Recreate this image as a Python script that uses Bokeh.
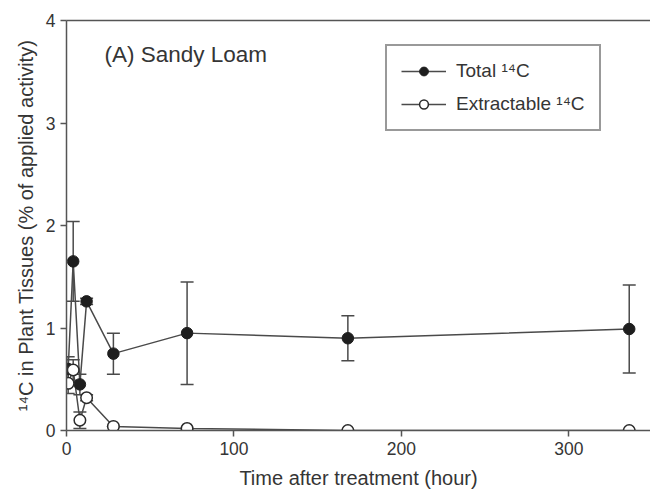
from bokeh.plotting import figure
from bokeh.models import (ColumnDataSource, Whisker, TeeHead, Legend, LegendItem,
                          LinearAxis, FixedTicker, Label, Range1d)
from bokeh.embed import file_html
from bokeh.resources import INLINE

# ---- data ----
time_h = [1, 4, 8, 12, 28, 72, 168, 336]
total_14c = [0.60, 1.65, 0.45, 1.26, 0.75, 0.95, 0.90, 0.99]
total_err = [0.12, 0.39, 0.10, 0.03, 0.20, 0.50, 0.22, 0.43]
extract_14c = [0.46, 0.59, 0.10, 0.32, 0.04, 0.02, 0.00, 0.00]
extract_err = [0.10, 0.10, 0.08, 0.03, 0.00, 0.00, 0.00, 0.00]
x_ticks = [0, 100, 200, 300]
y_ticks = [0, 1, 2, 3, 4]

FONT = "Liberation Sans"
TXT = "#353535"
AX = "#555555"
LN = "#4a4a4a"

src_t = ColumnDataSource(dict(
    x=time_h, y=total_14c,
    lo=[v - e for v, e in zip(total_14c, total_err)],
    hi=[v + e for v, e in zip(total_14c, total_err)]))
src_e = ColumnDataSource(dict(
    x=time_h, y=extract_14c,
    lo=[v - e for v, e in zip(extract_14c, extract_err)],
    hi=[v + e for v, e in zip(extract_14c, extract_err)]))

p = figure(frame_width=584, frame_height=410, output_backend="svg",
           toolbar_location=None, x_range=Range1d(0, 348.7), y_range=Range1d(0, 4),
           min_border_left=66, min_border_right=0, min_border_top=20, min_border_bottom=60)
p.outline_line_color = None
p.background_fill_color = "white"
p.border_fill_color = "white"
p.xgrid.grid_line_color = None
p.ygrid.grid_line_color = None

for ax, ticks in ((p.xaxis[0], x_ticks), (p.yaxis[0], y_ticks)):
    ax.ticker = FixedTicker(ticks=ticks)
    ax.axis_line_color = AX
    ax.axis_line_width = 1.5
    ax.major_tick_line_color = AX
    ax.major_tick_line_width = 1.5
    ax.major_tick_in = 0
    ax.major_tick_out = 6
    ax.minor_tick_line_color = None
    ax.major_label_text_font = FONT
    ax.major_label_text_font_size = "17.5px"
    ax.major_label_text_color = TXT
    ax.axis_label_text_font = FONT
    ax.axis_label_text_font_size = "20px"
    ax.axis_label_text_font_style = "normal"
    ax.axis_label_text_color = TXT
    ax.major_label_standoff = 5

p.xaxis.axis_label = "Time after treatment (hour)"
p.xaxis.axis_label_standoff = 9
p.yaxis.axis_label = "\u00b9\u2074C in Plant Tissues (% of applied activity)"
p.yaxis.axis_label_standoff = 6

top = LinearAxis(ticker=FixedTicker(ticks=[]), axis_line_color=AX, axis_line_width=1.5,
                 major_tick_line_color=None, minor_tick_line_color=None,
                 major_label_text_font_size="0px")
p.add_layout(top, "above")

# error bars
for src in (src_t, src_e):
    w = Whisker(source=src, base="x", upper="hi", lower="lo", dimension="height",
                line_color=LN, line_width=1.5,
                upper_head=TeeHead(size=13, line_color=LN, line_width=1.5),
                lower_head=TeeHead(size=13, line_color=LN, line_width=1.5))
    p.add_layout(w)

lt = p.line("x", "y", source=src_t, line_color=LN, line_width=1.5)
le = p.line("x", "y", source=src_e, line_color=LN, line_width=1.5)
st = p.scatter("x", "y", source=src_t, size=11.5, fill_color="#1e1e1e", line_color="#1e1e1e")
se = p.scatter("x", "y", source=src_e, size=11.5, fill_color="white", line_color="#2a2a2a",
               line_width=1.5)

legend = Legend(items=[
    LegendItem(label="Total \u00b9\u2074C", renderers=[lt, st]),
    LegendItem(label="Extractable \u00b9\u2074C", renderers=[le, se]),
], location=(319, 299))
legend.label_text_font = FONT
legend.label_text_font_size = "19px"
legend.label_text_color = TXT
legend.glyph_width = 45
legend.glyph_height = 22
legend.label_height = 22
legend.label_standoff = 10
legend.spacing = 11
legend.padding = 14
legend.margin = 0
legend.border_line_color = "#333333"
legend.border_line_width = 2
legend.background_fill_alpha = 1
p.add_layout(legend, "center")

p.add_layout(Label(x=22.7, y=3.67, text="(A) Sandy Loam", text_font=FONT,
                   text_font_size="22.5px", text_color=TXT, text_baseline="middle"))

open("out.html", "w").write(file_html(p, INLINE))
